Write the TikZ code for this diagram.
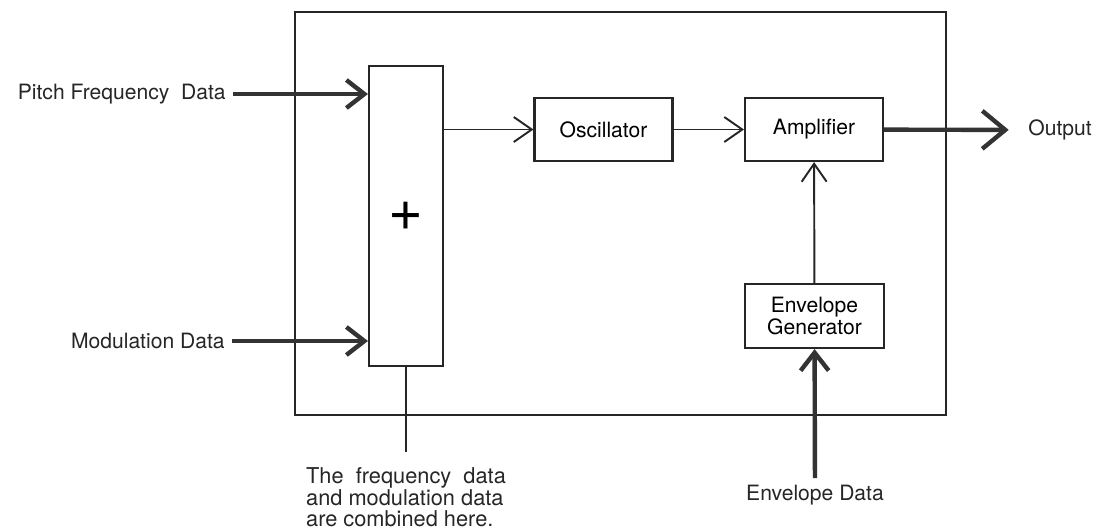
\documentclass[tikz,border=0pt]{standalone}
\usepackage{fontspec}
\setmainfont{TeX Gyre Heros}
\usepackage{tikz}
\usetikzlibrary{arrows.meta,positioning}

\begin{document}
\begin{tikzpicture}[x=0.02cm,y=-0.02cm,
  blk/.style={draw=black!85,line width=1.2pt,minimum width=2.76cm,minimum height=1.26cm,align=center,font=\fontsize{12}{13}\selectfont,inner sep=2pt},
  lbl/.style={font=\fontsize{12}{13}\selectfont,inner sep=4pt,text=black!85},
  thin/.style={draw=black!85,line width=1.1pt,-{Straight Barb[length=3.6mm,width=5mm]}},
  thick/.style={draw=black!80,line width=2.5pt,-{Straight Barb[length=3.6mm,width=5.6mm]}}]
\useasboundingbox (0,0) rectangle (1104,531);
% outer frame and adder
\node[draw=black!85,line width=1.2pt,minimum width=13.02cm,minimum height=8.06cm] (frame) at (620.5,213.5) {};
\node[blk,minimum width=1.48cm,minimum height=6.0cm,font=\fontsize{34}{38}\selectfont] (adder) at (406,216) {+};
% blocks
\node[blk] (osc) at (603.5,129.5) {Oscillator};
\node[blk] (amp) at (814,129.5) {Amplifier};
\node[blk,minimum width=2.78cm,minimum height=1.28cm] (env) at (814.5,316) {Envelope\\Generator};
% labels
\node[lbl,anchor=east] (pitch) at (233,94) {Pitch Frequency~ Data};
\node[lbl,anchor=east] (mod) at (232,341) {Modulation Data};
\node[lbl,anchor=west] (out) at (1021,130) {Output};
\node[lbl,anchor=north] (envdata) at (815,478) {Envelope Data};
\node[lbl,anchor=north,align=left,inner sep=0pt,font=\fontsize{12.4}{12.4}\selectfont] (note) at (406,467) {The\ \ frequency\ \ data\\and modulation data\\are combined here.};
\coordinate (noteend) at (406,452);
% connectors
\draw[thick] (pitch.east) -- (pitch.east -| adder.west);
\draw[thick] (mod.east) -- (mod.east -| adder.west);
\draw[thin] (adder.east |- osc.west) -- (osc.west);
\draw[thin] (osc) -- (amp);
\draw[thin] (env) -- (amp);
\draw[draw=black!80,line width=2.5pt,-{Straight Barb[length=4.6mm,width=7.6mm]},shorten >=7pt] (amp) -- (out);
\draw[thick] (envdata) -- (env);
\draw[draw=black!85,line width=1.2pt] (adder) -- (noteend);
\end{tikzpicture}
\end{document}
